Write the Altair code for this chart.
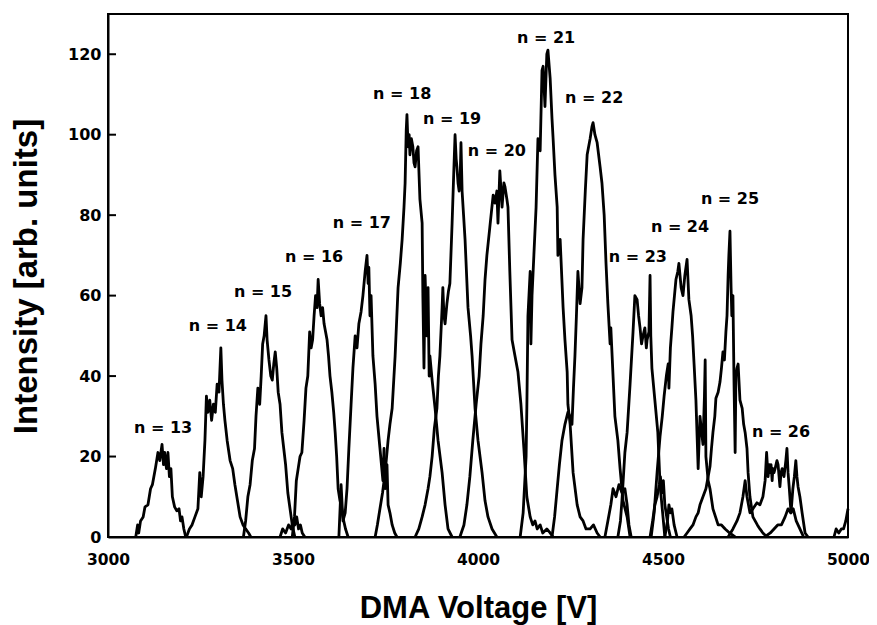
import altair as alt
import pandas as pd

# ---- data (x = DMA voltage [V], y = intensity) ----
n13_x = [3075,3080,3083,3088,3095,3100,3108,3115,3120,3128,3135,3140,3146,3150,3153,3158,3162,3166,3170,3174,3180,3186,3192,3196,3200,3205,3210]
n13_y = [0,3,1,4,5,7.5,8,12,13,17,21,19,23,18,21,17,21,15,17,10,7.5,6.5,7,4,5,2,0]

n14_x = [3212,3220,3227,3235,3243,3248,3252,3257,3262,3266,3270,3275,3280,3285,3290,3295,3300,3305,3308,3312,3316,3322,3330,3337,3343,3350,3357,3365,3372,3380,3386]
n14_y = [0,2,3,5,7,16,10,15,24,35,31,34,29,33,31,38,36,47,39,33,29,24,19,17,13,9,5,3,2,1,0]

n15_x = [3366,3372,3378,3384,3390,3396,3400,3405,3410,3414,3418,3422,3427,3430,3435,3440,3444,3448,3452,3456,3460,3465,3470,3475,3480,3486,3492,3498,3505]
n15_y = [0,4,10,13,19,22,30,37,33,40,48,50,55,49,44,40,39,43,46,42,36,33,26,22,18,11,7,3,0]

b1_x = [3465,3472,3480,3488,3495,3500,3505,3510,3515,3520,3525,3532]
b1_y = [0,2,1,3,2,4,3,5,2,3,1,0]

n16_x = [3498,3504,3509,3514,3519,3524,3530,3535,3540,3545,3549,3553,3557,3561,3565,3568,3572,3576,3580,3584,3588,3592,3596,3600,3605,3610,3614,3618,3622,3627,3632,3637,3642,3649]
n16_y = [0,5,14,17,20,21,29,37,40,51,47,49,55,60,57,64,58,55,57,53,51,49,45,40,36,31,26,20,12,9,7,4,2,0]

n17_x = [3624,3630,3635,3641,3646,3651,3657,3662,3668,3673,3678,3684,3689,3695,3700,3703,3705,3708,3711,3716,3722,3727,3735,3741,3743,3746,3749,3754,3757,3762,3768,3775,3781]
n17_y = [0,13,4,6,12,22,33,42,50,47,53,56,60,66,70,63,67,55,60,45,38,30,22,16,14,22,12,18,8,6,3,1,0]

n18_x = [3722,3728,3735,3742,3749,3757,3762,3768,3776,3784,3790,3795,3800,3803,3806,3808,3811,3814,3816,3820,3824,3827,3830,3834,3838,3843,3849,3851,3854,3857,3862,3865,3868,3870,3876,3884,3892,3903,3911,3919,3930]
n18_y = [0,3,7,11,16,24,28,32,45,62,68,74,82,88,101,105,97,100,95,99,97,93,92,96,97,84,78,60,42,65,50,62,40,45,39,32,24,16,8,2,0]

n19_x = [3830,3840,3849,3857,3865,3870,3876,3882,3889,3893,3897,3903,3905,3908,3911,3916,3920,3924,3930,3935,3938,3941,3943,3946,3949,3952,3954,3957,3961,3965,3973,3980,3984,3992,4000,4011,4019,4027,4038,4051]
n19_y = [0,2,5,8,12,15,20,27,32,40,45,57,62,55,53,58,61,63,78,92,100,94,92,88,86,90,98,86,80,74,57,50,45,32,24,16,9,5,2,0]

n20_x = [3951,3962,3970,3978,3986,3995,4003,4008,4014,4019,4024,4032,4041,4046,4051,4054,4059,4065,4070,4073,4078,4081,4086,4092,4100,4108,4116,4124,4132,4141,4148,4154,4160,4168,4175,4186,4195,4203]
n20_y = [0,3,8,15,24,33,40,48,55,64,70,77,85,83,86,78,91,82,88,87,84,82,66,49,45,41,33,22,10,5,3,4,2,3,1,2,1,0]

n21_x = [4114,4122,4130,4132,4135,4141,4143,4146,4151,4157,4162,4168,4173,4176,4181,4186,4189,4195,4200,4203,4208,4214,4216,4222,4230,4235,4241,4243,4249,4257,4268,4276,4284,4292,4303,4312,4322,4330]
n21_y = [0,6,20,32,55,66,48,60,70,82,99,96,116,117,107,120,121,114,104,99,90,82,70,74,57,49,41,33,28,16,8,5,4,2,2,3,1,0]

n22_x = [4200,4207,4214,4220,4227,4235,4243,4249,4254,4258,4262,4266,4270,4276,4281,4284,4290,4295,4303,4308,4311,4316,4322,4330,4335,4341,4346,4351,4357,4359,4365,4370,4378,4384,4392,4403,4411]
n22_y = [0,5,12,18,24,28,31,30,28,37,45,55,66,58,62,74,86,95,99,102,103,100,98,92,88,80,68,58,48,52,40,30,24,17,9,5,0]

b2_x = [4343,4351,4359,4365,4373,4381,4389,4397,4403,4408,4414]
b2_y = [0,4,8,12,10,13,11,12,8,3,0]

n23_x = [4378,4385,4389,4393,4397,4403,4411,4419,4424,4430,4434,4438,4442,4446,4451,4455,4457,4462,4465,4467,4470,4478,4486,4492,4500,4505]
n23_y = [0,4,9,15,21,26,38,51,60,59,55,52,48,50,52,47,49,51,65,50,42,34,26,13,5,0]

b3_x = [4465,4472,4478,4484,4490,4493,4497,4501,4505,4510,4515,4520]
b3_y = [0,4,8,10,13,15,11,14,8,5,2,0]

b4_x = [4505,4512,4516,4520,4524,4530,4538]
b4_y = [0,4,8,6,7,3,0]

n24_x = [4468,4476,4484,4492,4498,4503,4509,4514,4516,4520,4524,4527,4531,4535,4540,4543,4549,4554,4559,4565,4570,4576,4580,4584,4589,4595,4600,4608,4612,4614,4616,4622,4627,4635,4642,4649,4658,4668,4680,4695]
n24_y = [0,6,16,25,30,35,40,43,37,47,52,56,60,64,66,68,62,60,65,69,59,55,50,43,34,17,30,23,35,44,20,14,12,7,5,3,3,2,1,0]

n25_x = [4557,4565,4573,4581,4589,4595,4600,4608,4616,4622,4627,4631,4635,4640,4643,4649,4654,4658,4662,4666,4670,4673,4676,4678,4681,4684,4686,4689,4692,4695,4697,4700,4703,4708,4714,4718,4722,4727,4730,4735,4743,4749,4755,4762,4770,4781]
n25_y = [0,1,2,3,5,6,8,10,12,15,17.5,22,26,30,34.5,36,38.5,42,46,44,51,55,65,70,76,62,55,60,38,21,40,42,43,34,32,28,26,22,16,10,5,4,3,2,1,0]

n26_x = [4676,4689,4700,4708,4716,4722,4727,4735,4743,4754,4762,4770,4773,4776,4780,4784,4787,4789,4792,4795,4797,4800,4803,4808,4811,4816,4819,4822,4827,4832,4835,4838,4841,4846,4851,4855,4859,4862,4865,4870,4876,4884,4892]
n26_y = [0,2,4,6,10,14,10,6,7,8.5,8,10,12,14,21,15,18,16,18,14,17,16,17,19,18,12.5,16,17,15,19,22,16,12.5,6,12,15,19,15,12.5,10,6,1,0]

b6_x = [4775,4790,4800,4810,4820,4830,4838,4845,4852,4860,4870,4880]
b6_y = [0,1,2,3,3,5,7,6,7,4,2,0]

b7_x = [4962,4968,4975,4982,4988,4994,5000]
b7_y = [0,2,1,2,2,4,7]

label_text = ["n = 13","n = 14","n = 15","n = 16","n = 17","n = 18","n = 19",
              "n = 20","n = 21","n = 22","n = 23","n = 24","n = 25","n = 26"]
label_x = [3149,3297,3419,3557,3686,3795,3930,4051,4184,4314,4432,4546,4681,4819]
label_y = [27,52.5,61,69.5,78,110,104,96,124,109,69.5,77,84,26]

x_ticks = [3000, 3500, 4000, 4500, 5000]
y_ticks = [0, 20, 40, 60, 80, 100, 120]

series = {
    "n13": (n13_x, n13_y), "n14": (n14_x, n14_y), "n15": (n15_x, n15_y),
    "b1": (b1_x, b1_y), "n16": (n16_x, n16_y), "n17": (n17_x, n17_y),
    "n18": (n18_x, n18_y), "n19": (n19_x, n19_y), "n20": (n20_x, n20_y),
    "n21": (n21_x, n21_y), "n22": (n22_x, n22_y), "b2": (b2_x, b2_y),
    "n23": (n23_x, n23_y), "b3": (b3_x, b3_y), "b4": (b4_x, b4_y),
    "n24": (n24_x, n24_y), "n25": (n25_x, n25_y), "n26": (n26_x, n26_y),
    "b6": (b6_x, b6_y), "b7": (b7_x, b7_y),
}

rows = []
for name, (xs, ys) in series.items():
    for i, (xv, yv) in enumerate(zip(xs, ys)):
        rows.append({"series": name, "V": xv, "I": yv, "i": i})
df = pd.DataFrame(rows)
lab = pd.DataFrame({"text": label_text, "V": label_x, "I": label_y})
ticks_df = pd.DataFrame({"t": y_ticks})

TITLE_FONT = "Liberation Sans"
LABEL_FONT = "DejaVu Sans"

xscale = alt.Scale(domain=[3000, 5000], nice=False)
yscale = alt.Scale(domain=[0, 130], nice=False)

lines = alt.Chart(df).mark_line(color="black", strokeWidth=2.8, strokeJoin="round").encode(
    x=alt.X("V:Q", scale=xscale,
            axis=alt.Axis(title="DMA Voltage [V]", values=x_ticks, format="d",
                          grid=False, ticks=False, tickSize=0, labelPadding=15,
                          labelFlush=False, labelBaseline="top",
                          domainColor="black", domainWidth=2,
                          labelFont=LABEL_FONT, labelFontSize=15.5, labelFontWeight="bold",
                          labelColor="black",
                          titleFont=TITLE_FONT, titleFontSize=31, titleFontWeight="bold",
                          titleColor="black",
                          titleX=370, titleY=80, titleBaseline="alphabetic")),
    y=alt.Y("I:Q", scale=yscale,
            axis=alt.Axis(title="Intensity [arb. units]", values=y_ticks,
                          grid=False, ticks=False, tickSize=0,
                          labelPadding=7,
                          domainColor="black", domainWidth=2,
                          labelFont=LABEL_FONT, labelFontSize=16, labelFontWeight="bold",
                          labelColor="black",
                          titleFont=TITLE_FONT, titleFontSize=33, titleFontWeight="bold",
                          titleColor="black",
                          titleX=-82, titleY=262, titleAngle=-90,
                          titleAlign="center", titleBaseline="middle")),
    detail="series:N",
    order="i:Q",
)

# inward tick marks on the left axis
yticks = alt.Chart(ticks_df).mark_rule(color="black", strokeWidth=2).encode(
    x=alt.value(0), x2=alt.value(8),
    y=alt.Y("t:Q", scale=yscale),
)

texts = alt.Chart(lab).mark_text(font=LABEL_FONT, fontSize=16, fontWeight="bold",
                                 color="black", align="center", baseline="middle").encode(
    x=alt.X("V:Q", scale=xscale),
    y=alt.Y("I:Q", scale=yscale),
    text="text:N",
)

chart = alt.layer(lines, yticks, texts).properties(
    width=740, height=523,
    autosize=alt.AutoSizeParams(type="none"),
    padding={"left": 100, "top": 6, "right": 21, "bottom": 88},
).configure_view(
    stroke="black", strokeWidth=2
)

chart.save("out.html", embed_options={"renderer": "svg", "actions": False})
